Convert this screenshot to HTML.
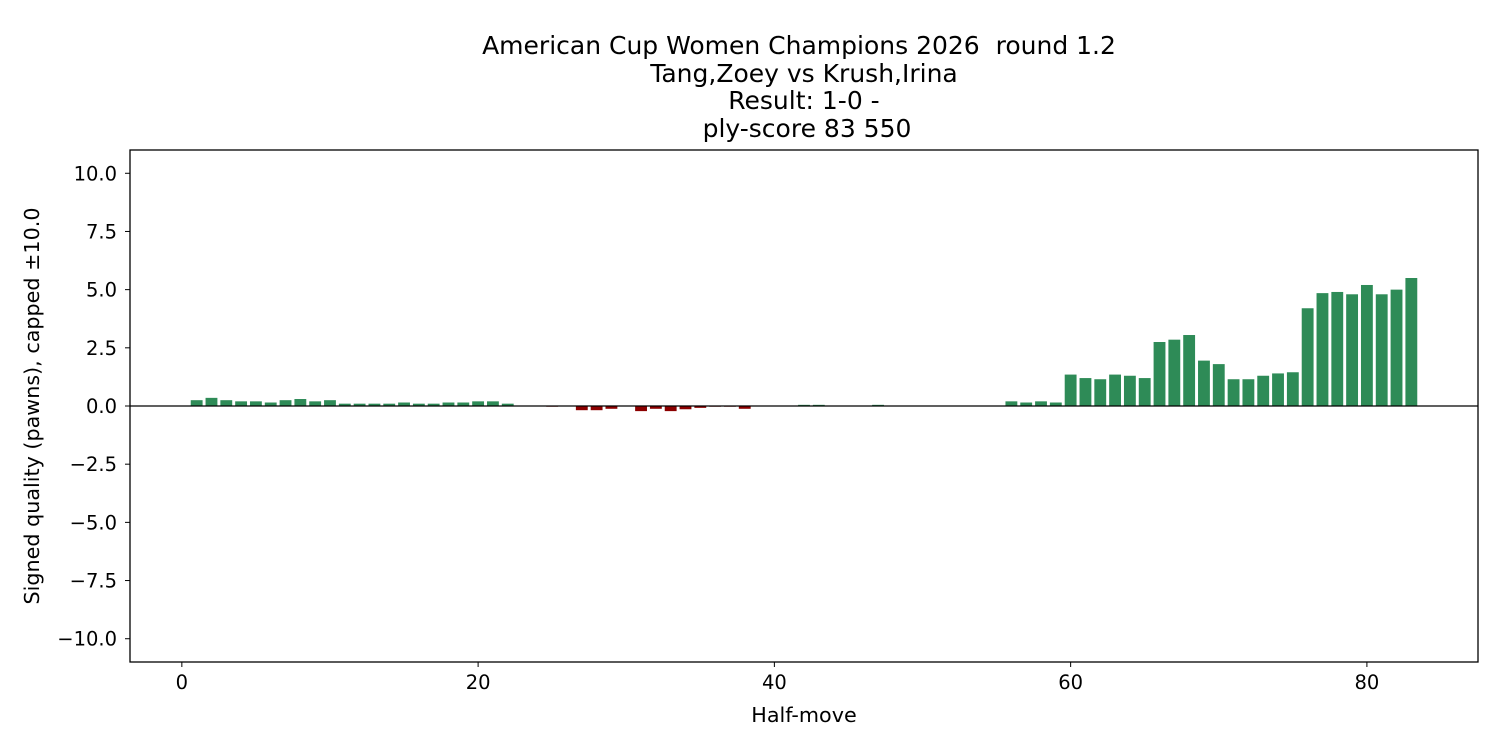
<!DOCTYPE html>
<html><head><meta charset="utf-8"><style>body{margin:0;background:#fff}svg{display:block;font-family:"DejaVu Sans","Liberation Sans",sans-serif}</style></head>
<body>
<svg id="chart" width="1500" height="750">
<g font-size="25" text-anchor="middle" fill="#000" style="white-space:pre">
<text x="799" y="54" xml:space="preserve">American Cup Women Champions 2026  round 1.2</text>
<text x="804" y="82">Tang,Zoey vs Krush,Irina</text>
<text x="804" y="109">Result: 1-0 -</text>
<text x="807" y="137">ply-score 83 550</text>
</g>
<g id="bars"></g>
<g id="axes"></g>
<text x="804" y="722" font-size="20.7" text-anchor="middle">Half-move</text>
<text transform="translate(39,406) rotate(-90)" font-size="20.7" text-anchor="middle">Signed quality (pawns), capped ±10.0</text>
</svg>
<script>
const plies=[];for(let i=1;i<=83;i++)plies.push(i);
const scores=[0.25,0.35,0.25,0.2,0.2,0.15,0.25,0.3,0.2,0.25,0.1,0.1,0.1,0.1,0.15,0.1,0.1,0.15,0.15,0.2,0.2,0.1,0,0,-0.03,0,-0.18,-0.18,-0.12,0,-0.22,-0.12,-0.22,-0.14,-0.08,-0.03,-0.03,-0.12,0,0,0,0.05,0.05,0,0,0,0.05,0,0,0,0,0,0,0,0,0.2,0.15,0.2,0.15,1.35,1.2,1.15,1.35,1.3,1.2,2.75,2.85,3.05,1.95,1.8,1.15,1.15,1.3,1.4,1.45,4.2,4.85,4.9,4.8,5.2,4.8,5.0,5.5];
const xTicks=[0,20,40,60,80];
const yTicks=[10,7.5,5,2.5,0,-2.5,-5,-7.5,-10];
const L=130,R=1478,T=150,B=662,xmin=-3.5,xmax=87.5,ymin=-11,ymax=11;
const X=v=>L+(v-xmin)/(xmax-xmin)*(R-L);
const Y=v=>T+(ymax-v)/(ymax-ymin)*(B-T);
const NS="http://www.w3.org/2000/svg";
function mk(t,a,p){const e=document.createElementNS(NS,t);for(const k in a)e.setAttribute(k,a[k]);p.appendChild(e);return e;}
const bars=document.getElementById('bars'),axes=document.getElementById('axes');
plies.forEach((p,i)=>{const v=scores[i];if(v===0)return;
const r=mk('rect',{x:X(p-0.4),width:X(p+0.4)-X(p-0.4),y:Math.min(Y(v),Y(0)),height:Math.abs(Y(v)-Y(0)),fill:v>0?'#2e8b57':'#8b0000'},bars);

});
const zl=mk('line',{x1:L,x2:R,y1:Y(0),y2:Y(0),stroke:'#000','stroke-width':1.3},axes);


const fr=mk('rect',{x:L,y:T,width:R-L,height:B-T,fill:'none',stroke:'#000','stroke-width':1.3},axes);


xTicks.forEach(t=>{mk('line',{x1:X(t),x2:X(t),y1:B,y2:B+5,stroke:'#000'},axes);
const tx=mk('text',{x:X(t),y:B+27,'font-size':19.5,'text-anchor':'middle'},axes);tx.textContent=t;

});
yTicks.forEach(t=>{mk('line',{x1:L-5,x2:L,y1:Y(t),y2:Y(t),stroke:'#000'},axes);
const tx=mk('text',{x:L-13,y:Y(t)+7,'font-size':19.5,'text-anchor':'end'},axes);tx.textContent=(t<0?'−':'')+Math.abs(t).toFixed(1);

});
</script>
</body></html>
